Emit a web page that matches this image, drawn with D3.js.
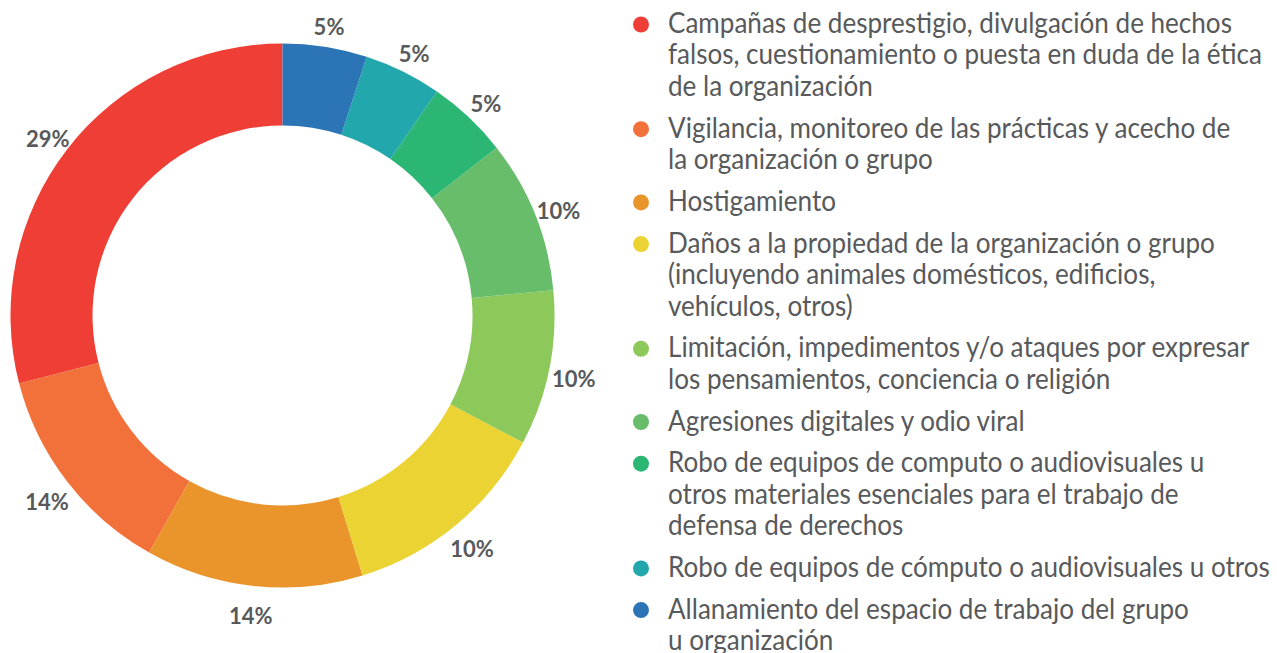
<!DOCTYPE html>
<html>
<head>
<meta charset="utf-8">
<script src="https://cdn.jsdelivr.net/npm/d3@7"></script>
<style>
  html, body { margin: 0; padding: 0; background: #fff; }
  svg { display: block; }
</style>
</head>
<body>
<div id="chart"></div>
<script>
// categories in legend order (ring runs counter-clockwise from 12 o'clock in this order)
const categories = [
  "Campañas de desprestigio, divulgación de hechos\nfalsos, cuestionamiento o puesta en duda de la ética\nde la organización",
  "Vigilancia, monitoreo de las prácticas y acecho de\nla organización o grupo",
  "Hostigamiento",
  "Daños a la propiedad de la organización o grupo\n(incluyendo animales domésticos, edificios,\nvehículos, otros)",
  "Limitación, impedimentos y/o ataques por expresar\nlos pensamientos, conciencia o religión",
  "Agresiones digitales y odio viral",
  "Robo de equipos de computo o audiovisuales u\notros materiales esenciales para el trabajo de\ndefensa de derechos",
  "Robo de equipos de cómputo o audiovisuales u otros",
  "Allanamiento del espacio de trabajo del grupo\nu organización"
]
// slice shares as drawn in the picture (%)
const shares = [29.0, 12.8, 12.9, 12.5, 9.2, 9.1, 4.8, 4.6, 5.0]
// percentage labels as printed
const pctLabels = ["29%", "14%", "14%", "10%", "10%", "10%", "5%", "5%", "5%"]
const colors = ["#ef3e36", "#f2703a", "#ea952c", "#ebd333", "#8cc85a", "#68bd6b", "#2bb673", "#22a7ac", "#2b75b7"]

const W = 1277, H = 653
const cx = 282.5, cy = 315.5
const outerR = 272, innerR = 190, labelR = 297

const svg = d3.select("#chart").append("svg")
  .attr("width", W)
  .attr("height", H)

const data = shares.map((v, i) => ({
  label: categories[i],
  value: v,
  pct: pctLabels[i],
  color: colors[i]
}))

const pie = d3.pie()
  .value(d => d.value)
  .sort(null)
  .startAngle(0)
  .endAngle(-2 * Math.PI)

const arc = d3.arc().innerRadius(innerR).outerRadius(outerR)
const labelArc = d3.arc().innerRadius(labelR).outerRadius(labelR)

const g = svg.append("g").attr("transform", `translate(${cx},${cy})`)

const arcs = pie(data)

g.selectAll("path")
  .data(arcs)
  .join("path")
  .attr("d", arc)
  .attr("fill", d => d.data.color)

g.selectAll("text.pct")
  .data(arcs)
  .join("text")
  .attr("class", "pct")
  .attr("transform", d => `translate(${labelArc.centroid(d)})`)
  .attr("dy", "0.6em")
  .attr("text-anchor", "middle")
  .attr("font-family", "Lato, sans-serif")
  .attr("font-weight", "bold")
  .attr("font-size", 22)
  .attr("fill", "#58595b")
  .text(d => d.data.pct)

// legend — reference text is a little condensed, so measure and squeeze to match
const fontSize = 28
const ctx = document.createElement("canvas").getContext("2d")
ctx.font = `${fontSize}px Lato`
const refWidth = 594
const sx = refWidth / ctx.measureText("falsos, cuestionamiento o puesta en duda de la ética").width

const lineH = 31.5, itemGap = 10.2
const legend = svg.append("g")
let y = 33
data.forEach(d => {
  const lines = d.label.split("\n")
  const item = legend.append("g")
  item.append("circle")
    .attr("cx", 641)
    .attr("cy", y - 8.5)
    .attr("r", 8)
    .attr("fill", d.color)
  const t = item.append("g")
    .attr("transform", `translate(668,${y}) scale(${sx},1)`)
    .append("text")
    .attr("font-family", "Lato, sans-serif")
    .attr("font-size", fontSize)
    .attr("fill", "#58595b")
  lines.forEach((l, i) => {
    t.append("tspan").attr("x", 0).attr("y", i * lineH).text(l)
  })
  y += lines.length * lineH + itemGap
})
</script>
</body>
</html>
